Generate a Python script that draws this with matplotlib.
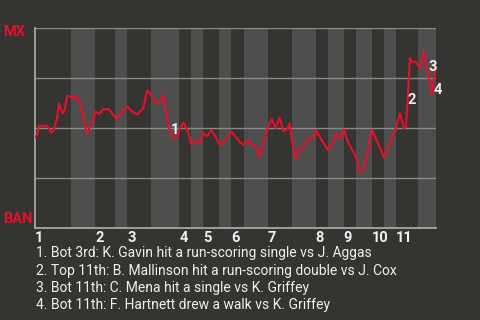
import matplotlib
matplotlib.use("Agg")
import matplotlib.pyplot as plt

# win probability for MX (percent) after each event
event = [0, 1, 2, 6, 8, 9, 11, 12, 13, 14, 15, 16, 18, 19, 20, 22, 24, 26, 27, 29,
         30, 32, 34, 37, 39, 41, 43, 46, 48, 49, 51, 54, 56, 57, 60, 62, 64, 66, 67, 69,
         71, 72, 74, 76, 78, 81, 82, 84, 86, 88, 90, 92, 95, 98, 100, 102, 104, 106, 108, 110,
         112, 116, 118, 120, 122, 124, 126, 127, 128, 130, 132, 134, 136, 139, 140, 143, 145, 146, 148, 150,
         152, 154, 156, 160, 162, 164, 165, 168, 171, 174, 177, 180, 182, 184, 185, 186, 187, 188, 190, 192,
         194, 195, 198, 200]
win_prob = [45.4, 46.5, 51.0, 51.2, 47.9, 48.2, 54.9, 62.4, 59.0, 57.4, 59.9, 66.0, 65.7, 64.5, 66.2, 63.7, 55.7, 46.9, 49.9, 54.0,
            58.2, 57.0, 59.4, 59.4, 56.5, 54.5, 57.4, 60.7, 58.5, 57.9, 56.8, 59.9, 69.0, 67.7, 62.7, 62.7, 66.2, 54.0, 49.0, 44.9,
            45.4, 49.0, 52.7, 49.0, 42.0, 44.0, 42.4, 47.4, 46.0, 49.0, 45.7, 41.5, 44.0, 48.2, 45.7, 43.2, 41.5, 44.0, 41.5, 41.0,
            35.7, 49.9, 54.4, 49.9, 55.2, 48.2, 49.9, 52.4, 44.9, 34.5, 39.9, 40.2, 44.9, 44.9, 49.0, 44.0, 40.7, 39.0, 41.5, 47.0,
            44.9, 49.4, 43.2, 35.7, 27.9, 29.0, 34.0, 49.0, 42.4, 35.4, 42.4, 49.9, 57.4, 49.9, 50.4, 66.5, 84.9, 83.2, 82.9, 79.9,
            88.2, 82.4, 66.5, 81.0]

# first event of each half inning (top, bottom)
half_starts = [0, 18, 30, 40, 46, 58, 72, 78, 84, 92, 98, 104, 116, 128, 140, 146, 154, 160, 168, 174, 180, 191]
total_events = 200
inning_labels = ["1", "2", "3", "4", "5", "6", "7", "8", "9", "10", "11"]

key_labels = ["1", "2", "3", "4"]
key_x = [69.8, 188, 198.5, 201]
key_y = [49, 64, 80.5, 69]
key_text = [
    "1. Bot 3rd: K. Gavin hit a run-scoring single vs J. Aggas",
    "2. Top 11th: B. Mallinson hit a run-scoring double vs J. Cox",
    "3. Bot 11th: C. Mena hit a single vs K. Griffey",
    "4. Bot 11th: F. Hartnett drew a walk vs K. Griffey",
]

bg = "#363431"
band = "#4e4e4e"
red = "#e5102d"
grid = "#8a8a8a"
plt.rcParams["font.family"] = ["Roboto", "DejaVu Sans"]

fig = plt.figure(figsize=(4.8, 3.2), dpi=100, facecolor=bg)
ax = fig.add_axes([35 / 480, 1 - 228 / 320, 401 / 480, 200 / 320])
ax.set_facecolor(bg)

# shade bottom halves
bounds = half_starts + [total_events]
for i in range(1, len(half_starts), 2):
    ax.axvspan(bounds[i], bounds[i + 1], color=band, lw=0, zorder=0)

for g in [25, 50, 75, 100]:
    ax.axhline(g, color=grid, lw=1, zorder=1)

ax.plot(event, win_prob, color=red, lw=1.5, zorder=3)

for lab, x, y in zip(key_labels, key_x, key_y):
    ax.text(x, y, lab, color="#f0f0f0", fontsize=10.5, fontweight="bold",
            ha="center", va="center", zorder=4)

ax.set_xlim(0, total_events)
ax.set_ylim(0, 100)
for s in ["top", "right"]:
    ax.spines[s].set_visible(False)
for s in ["left", "bottom"]:
    ax.spines[s].set_color("#b0b0b0")
    ax.spines[s].set_linewidth(1.2)
ax.set_yticks([])
ax.set_xticks(half_starts[::2])
ax.set_xticklabels(inning_labels, fontsize=10.5, fontweight="bold", color="#f0f0f0",
                   ha="left")
ax.tick_params(axis="x", length=0, pad=2)

fig.text(3 / 480, 1 - 32 / 320, "MX", color=red, fontsize=10.5, fontweight="bold",
         ha="left", va="center")
fig.text(3 / 480, 1 - 219 / 320, "BAN", color=red, fontsize=10.5, fontweight="bold",
         ha="left", va="center")

for i, t in enumerate(key_text):
    fig.text(36 / 480, 1 - (253 + i * 17.5) / 320, t, color="#f0f0f0", fontsize=10,
             ha="left", va="center")

fig.savefig("out.png", dpi=100, facecolor=bg)
